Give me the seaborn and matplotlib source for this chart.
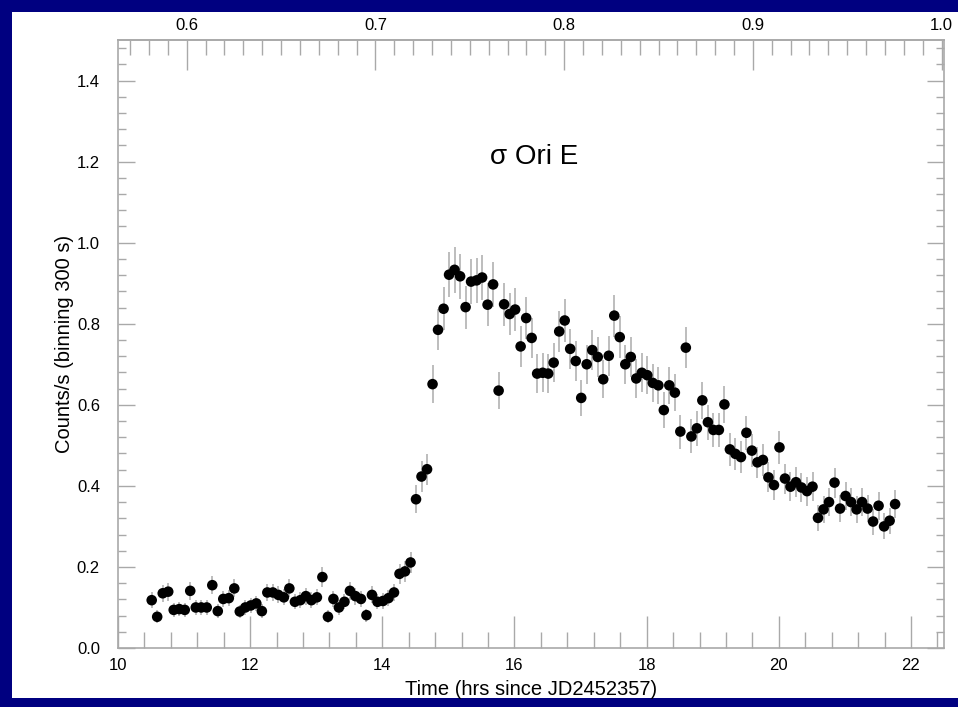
import numpy as np
import pandas as pd
import matplotlib
matplotlib.use("Agg")
import matplotlib.pyplot as plt
from matplotlib.patches import Rectangle
from matplotlib.ticker import MultipleLocator, FormatStrFormatter
import seaborn as sns

# ---------------- data ----------------
time_hr = [
    10.510, 10.593, 10.677, 10.760, 10.843, 10.927, 11.010, 11.093, 11.177, 11.260, 11.343, 11.427,
    11.510, 11.593, 11.677, 11.760, 11.843, 11.927, 12.010, 12.093, 12.177, 12.260, 12.343, 12.427,
    12.510, 12.593, 12.677, 12.760, 12.843, 12.927, 13.010, 13.093, 13.177, 13.260, 13.343, 13.427,
    13.510, 13.593, 13.677, 13.760, 13.843, 13.927, 14.010, 14.093, 14.177, 14.260, 14.343, 14.427,
    14.510, 14.593, 14.677, 14.760, 14.843, 14.927, 15.010, 15.093, 15.177, 15.260, 15.343, 15.427,
    15.510, 15.593, 15.677, 15.760, 15.843, 15.927, 16.010, 16.093, 16.177, 16.260, 16.343, 16.427,
    16.510, 16.593, 16.677, 16.760, 16.843, 16.927, 17.010, 17.093, 17.177, 17.260, 17.343, 17.427,
    17.510, 17.593, 17.677, 17.760, 17.843, 17.927, 18.010, 18.093, 18.177, 18.260, 18.343, 18.427,
    18.510, 18.593, 18.677, 18.760, 18.843, 18.927, 19.010, 19.093, 19.177, 19.260, 19.343, 19.427,
    19.510, 19.593, 19.677, 19.760, 19.843, 19.927, 20.010, 20.093, 20.177, 20.260, 20.343, 20.427,
    20.510, 20.593, 20.677, 20.760, 20.843, 20.927, 21.010, 21.093, 21.177, 21.260, 21.343, 21.427,
    21.510, 21.593, 21.677, 21.760,
]

count_rate = [
    0.118, 0.077, 0.135, 0.139, 0.094, 0.096, 0.094, 0.141, 0.100, 0.100, 0.100, 0.155,
    0.091, 0.121, 0.123, 0.147, 0.090, 0.100, 0.105, 0.110, 0.091, 0.137, 0.137, 0.131,
    0.125, 0.147, 0.114, 0.118, 0.128, 0.118, 0.125, 0.175, 0.077, 0.121, 0.100, 0.114,
    0.141, 0.128, 0.121, 0.081, 0.131, 0.114, 0.116, 0.123, 0.137, 0.183, 0.189, 0.211,
    0.367, 0.423, 0.441, 0.651, 0.785, 0.837, 0.921, 0.933, 0.917, 0.841, 0.904, 0.907,
    0.914, 0.847, 0.897, 0.635, 0.848, 0.824, 0.835, 0.744, 0.814, 0.765, 0.677, 0.679,
    0.677, 0.704, 0.781, 0.808, 0.738, 0.708, 0.617, 0.700, 0.735, 0.718, 0.663, 0.721,
    0.820, 0.767, 0.700, 0.718, 0.665, 0.679, 0.673, 0.654, 0.648, 0.587, 0.648, 0.630,
    0.534, 0.741, 0.522, 0.542, 0.611, 0.557, 0.538, 0.538, 0.601, 0.490, 0.479, 0.471,
    0.531, 0.487, 0.458, 0.464, 0.421, 0.402, 0.495, 0.418, 0.398, 0.409, 0.396, 0.387,
    0.398, 0.321, 0.342, 0.360, 0.408, 0.344, 0.375, 0.360, 0.342, 0.360, 0.344, 0.312,
    0.351, 0.300, 0.314, 0.355,
]

rate_err = [
    0.020, 0.016, 0.021, 0.022, 0.018, 0.018, 0.018, 0.022, 0.018, 0.018, 0.018, 0.023,
    0.017, 0.020, 0.020, 0.022, 0.017, 0.018, 0.019, 0.019, 0.017, 0.021, 0.021, 0.021,
    0.020, 0.022, 0.019, 0.020, 0.021, 0.020, 0.020, 0.024, 0.016, 0.020, 0.018, 0.019,
    0.022, 0.021, 0.020, 0.016, 0.021, 0.019, 0.020, 0.020, 0.021, 0.025, 0.025, 0.027,
    0.035, 0.038, 0.038, 0.047, 0.051, 0.053, 0.055, 0.056, 0.055, 0.053, 0.055, 0.055,
    0.055, 0.053, 0.055, 0.046, 0.053, 0.052, 0.053, 0.050, 0.052, 0.050, 0.048, 0.048,
    0.048, 0.048, 0.051, 0.052, 0.050, 0.049, 0.045, 0.048, 0.049, 0.049, 0.047, 0.049,
    0.052, 0.051, 0.048, 0.049, 0.047, 0.048, 0.047, 0.047, 0.046, 0.044, 0.046, 0.046,
    0.042, 0.050, 0.042, 0.043, 0.045, 0.043, 0.042, 0.042, 0.045, 0.040, 0.040, 0.040,
    0.042, 0.040, 0.039, 0.039, 0.037, 0.037, 0.041, 0.037, 0.036, 0.037, 0.036, 0.036,
    0.036, 0.033, 0.034, 0.035, 0.037, 0.034, 0.035, 0.035, 0.034, 0.035, 0.034, 0.032,
    0.034, 0.032, 0.032, 0.034,
]

x_ticks = [10, 12, 14, 16, 18, 20, 22]
y_ticks = [0.0, 0.2, 0.4, 0.6, 0.8, 1.0, 1.2, 1.4]
phase_ticks = [0.6, 0.7, 0.8, 0.9, 1.0]
title_text = "σ Ori E"
x_label = "Time (hrs since JD2452357)"
y_label = "Counts/s (binning 300 s)"

# rotational phase on the top axis (period 1.19 d)
period_hr = 28.56
phase_at_10h = 0.5636

df = pd.DataFrame({"time": time_hr, "rate": count_rate, "err": rate_err})

# ---------------- style ----------------
sns.set_style("ticks")
plt.rcParams["font.family"] = ["Liberation Sans", "DejaVu Sans"]
plt.rcParams["axes.unicode_minus"] = False

W, H = 958, 707
fig = plt.figure(figsize=(W / 100, H / 100), dpi=100, facecolor="#000080")
fig.patches.append(Rectangle((12 / W, 9 / H), (W - 12) / W, (H - 21) / H,
                             transform=fig.transFigure, facecolor="white",
                             edgecolor="none", zorder=-5))

ax = fig.add_axes([118 / W, 59 / H, 826 / W, 608 / H])
ax.set_facecolor("white")

grey = "#a9a9a9"

ax.errorbar(df["time"], df["rate"], yerr=df["err"], fmt="none",
            ecolor="#b8b8b8", elinewidth=1.3, capsize=0, zorder=2)
sns.scatterplot(data=df, x="time", y="rate", ax=ax, color="black", s=58,
                edgecolor="none", linewidth=0, zorder=3, legend=False)

ax.set_xlim(10, 22.5)
ax.set_ylim(0, 1.5)

for s in ax.spines.values():
    s.set_color(grey)
    s.set_linewidth(1.2)

ax.xaxis.set_major_locator(matplotlib.ticker.FixedLocator(x_ticks))
ax.xaxis.set_minor_locator(MultipleLocator(0.4))
ax.yaxis.set_major_locator(matplotlib.ticker.FixedLocator(y_ticks))
ax.yaxis.set_minor_locator(MultipleLocator(0.04))
ax.yaxis.set_major_formatter(FormatStrFormatter("%.1f"))
ax.xaxis.set_major_formatter(FormatStrFormatter("%d"))

ax.tick_params(axis="x", which="major", direction="in", length=23, width=1,
               color=grey, labelcolor="black", labelsize=12, pad=7,
               top=False, bottom=True)
ax.tick_params(axis="x", which="minor", direction="in", length=11.5, width=1,
               color=grey, top=False, bottom=True)
ax.tick_params(axis="y", which="major", direction="in", length=12, width=1,
               color=grey, labelcolor="black", labelsize=12, pad=13,
               left=True, right=True)
ax.tick_params(axis="y", which="minor", direction="in", length=5.5, width=1,
               color=grey, left=True, right=True)

ax.set_xlabel(x_label, fontsize=14.5, color="black", labelpad=5)
ax.set_ylabel(y_label, fontsize=14.5, color="black", labelpad=2)

top = ax.secondary_xaxis(
    "top",
    functions=(lambda t: phase_at_10h + (t - 10) / period_hr,
               lambda p: 10 + (p - phase_at_10h) * period_hr))
top.xaxis.set_major_locator(matplotlib.ticker.FixedLocator(phase_ticks))
top.xaxis.set_minor_locator(MultipleLocator(0.01))
top.xaxis.set_major_formatter(FormatStrFormatter("%.1f"))
top.tick_params(axis="x", which="major", direction="in", length=21.5, width=1,
                color=grey, labelcolor="black", labelsize=12, pad=5)
top.tick_params(axis="x", which="minor", direction="in", length=10.8, width=1,
                color=grey)
top.spines["top"].set_color(grey)
top.spines["top"].set_linewidth(1.2)

ax.text(0.504, 0.808, title_text, transform=ax.transAxes, ha="center",
        va="center", fontsize=20, color="black")

fig.savefig("out.png", dpi=100, facecolor=fig.get_facecolor())
